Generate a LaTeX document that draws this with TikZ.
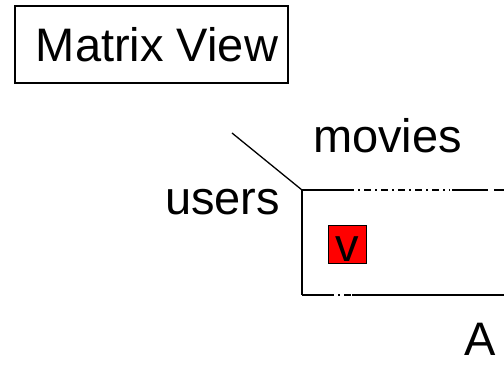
\documentclass[tikz,border=0pt]{standalone}
\usepackage{fontspec}
\setmainfont{Liberation Sans}
\begin{document}
\begin{tikzpicture}
		% We work in point units, with y pointing down
		[x=1pt, y=-1pt,
		frame/.style={black, line width=1.6pt},
		gaps/.style={black, line width=1.6pt, dash pattern=on 7pt off 4pt on 2pt off 4pt},
		words/.style={anchor=base west, inner sep=0pt, font=\fontsize{47}{50}\selectfont},
		titlebox/.style={draw=black, line width=1.4pt, inner sep=0pt, font=\fontsize{47}{50}\selectfont},
		cell/.style={draw=black, line width=0.8pt, fill=red, inner sep=0pt, minimum size=38pt,
			text height=35pt, text depth=0pt, font=\fontsize{47}{50}\selectfont}]
	
		\useasboundingbox (0,0) rectangle (504,366);
	
		% The title in its box
		\node[titlebox, minimum width=273pt, minimum height=77pt] (title) at (151.5,44.5) {\hspace{11pt}Matrix View};
		
		% Corners of the matrix, it runs on past the right edge
		\coordinate (NW) at (302,190);
		\coordinate (SW) at (302,295);
		\coordinate (NE) at (504,190);
		\coordinate (SE) at (504,295);
		\coordinate (tip) at (232,133);
		
		% Left side and the broken top and bottom edges
		\draw[frame] (NW) -- (SW);
		\draw[frame] (NW) -- (347,190);
		\draw[gaps] (347,190) -- (450,190);
		\draw[frame] (452,190) -- (488,190);
		\draw[frame] (494,190) -- (NE);
		\draw[frame] (SW) -- (327,295);
		\draw[gaps] (327,295) -- (351,295);
		\draw[frame] (352,295) -- (SE);
		
		% The diagonal stroke into the corner
		\draw[black, line width=1.3pt] (tip) -- (NW);
		
		% Axis names and the matrix name
		\node[words] (movies) at (313,153) {movies};
		\node[words] (users) at (165,215) {users};
		\node[words] (A) at (464,356) {A};
		
		% One entry of the matrix
		\node[cell] (v) at (347,244.5) {v};
	\end{tikzpicture}
\end{document}
